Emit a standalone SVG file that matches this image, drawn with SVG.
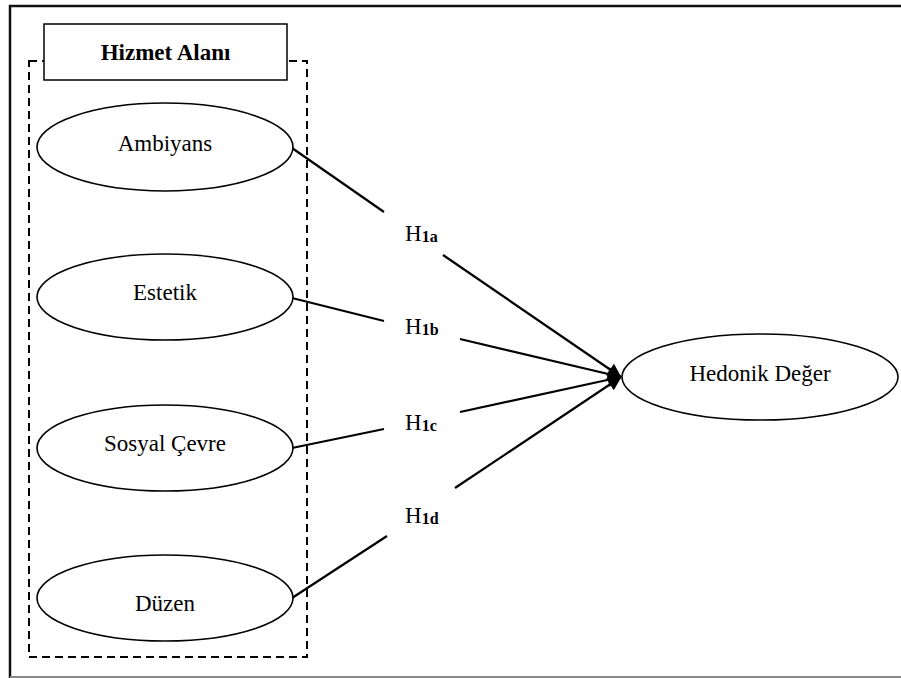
<svg xmlns="http://www.w3.org/2000/svg" width="901" height="678" viewBox="0 0 901 678">
<defs>
<marker id="arr" viewBox="0 0 10 10" refX="9.5" refY="5" markerUnits="userSpaceOnUse" markerWidth="17" markerHeight="14" orient="auto">
<path d="M0,0 L10,5 L0,10 z" fill="#000"/>
</marker>
<style>
.lbl{font-family:"Liberation Serif","Times New Roman",serif;font-size:23px;fill:#000;text-anchor:middle}
.h{font-family:"Liberation Serif","Times New Roman",serif;font-size:23px;fill:#000}
.sub{font-weight:bold;font-size:16px}
.node{fill:#fff;stroke:#000;stroke-width:1.6}
.conn{stroke:#000;stroke-width:2.2;fill:none}
</style>
</defs>
<rect x="0" y="0" width="901" height="678" fill="#fff"/>
<g id="frame">
<path d="M10,678 L10,6 L901,6" fill="none" stroke="#111" stroke-width="2.5"/>
<line x1="10" y1="677" x2="901" y2="677" stroke="#888" stroke-width="2"/>
</g>
<g id="hizmet-alani">
<rect x="29" y="61" width="278" height="596" fill="none" stroke="#000" stroke-width="2" stroke-dasharray="8,5"/>
<rect x="44" y="24" width="243" height="56" fill="#fff" stroke="#000" stroke-width="1.5"/>
<text x="165.5" y="60" class="lbl" font-weight="bold">Hizmet Alanı</text>
</g>
<g id="connectors">
<line class="conn" x1="292" y1="148" x2="384" y2="212"/>
<line class="conn" x1="443" y1="255" x2="621" y2="377" marker-end="url(#arr)"/>
<line class="conn" x1="292" y1="298" x2="384" y2="321"/>
<line class="conn" x1="460" y1="339" x2="621" y2="377" marker-end="url(#arr)"/>
<line class="conn" x1="292" y1="448" x2="384" y2="429"/>
<line class="conn" x1="460" y1="412" x2="621" y2="377" marker-end="url(#arr)"/>
<line class="conn" x1="292" y1="598" x2="387" y2="536"/>
<line class="conn" x1="455" y1="488" x2="621" y2="377" marker-end="url(#arr)"/>
<text x="405" y="241" class="h">H<tspan class="sub" dy="1">1a</tspan></text>
<text x="405" y="334" class="h">H<tspan class="sub" dy="1">1b</tspan></text>
<text x="405" y="430" class="h">H<tspan class="sub" dy="1">1c</tspan></text>
<text x="405" y="523" class="h">H<tspan class="sub" dy="1">1d</tspan></text>
</g>
<g id="ambiyans">
<ellipse cx="165" cy="147" rx="128" ry="44" class="node"/>
<text x="165" y="151" class="lbl">Ambiyans</text>
</g>
<g id="estetik">
<ellipse cx="165" cy="297" rx="128" ry="43" class="node"/>
<text x="165" y="300" class="lbl">Estetik</text>
</g>
<g id="sosyal-cevre">
<ellipse cx="165" cy="448" rx="128" ry="43" class="node"/>
<text x="165" y="451" class="lbl">Sosyal Çevre</text>
</g>
<g id="duzen">
<ellipse cx="165" cy="598" rx="128" ry="43" class="node"/>
<text x="165" y="611" class="lbl">Düzen</text>
</g>
<g id="hedonik-deger">
<ellipse cx="760" cy="377" rx="138" ry="43" class="node"/>
<text x="760" y="381" class="lbl">Hedonik Değer</text>
</g>
</svg>
